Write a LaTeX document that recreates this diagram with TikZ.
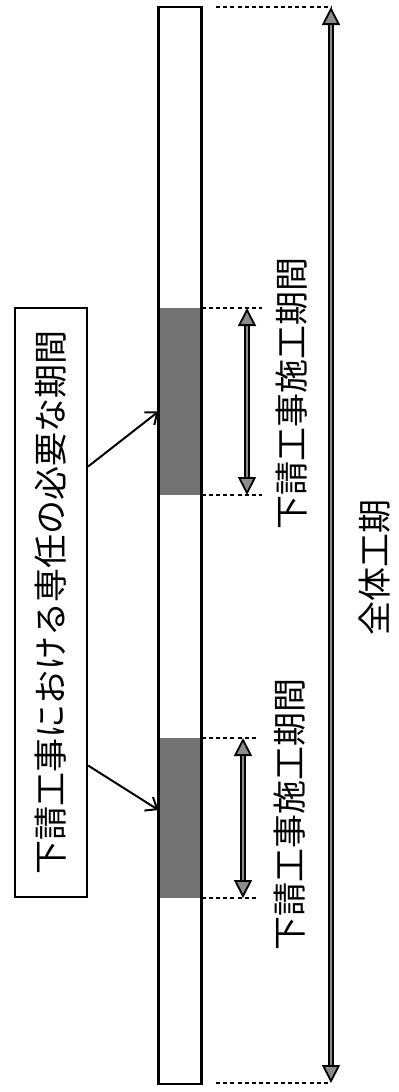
\documentclass[tikz,border=0pt]{standalone}
\usepackage{fontspec}
\setmainfont{Noto Sans CJK JP}
\usetikzlibrary{arrows.meta,calc}

\begin{document}
\begin{tikzpicture}[
  x=0.5pt, y=-0.5pt,
  bar/.style={draw, line width=1.1pt, minimum width=21.5pt, minimum height=538.5pt,
              inner sep=0pt, outer sep=0pt},
  block/.style={fill=black!55, minimum width=21.5pt, inner sep=0pt, outer sep=0pt},
  labelbox/.style={draw, line width=1.1pt, rotate=90, minimum width=294.5pt,
                   minimum height=36pt, inner sep=0pt, font=\fontsize{17pt}{17pt}\selectfont},
  vtext/.style={rotate=90, inner sep=0pt, font=\fontsize{17pt}{17pt}\selectfont},
  guide/.style={line width=0.9pt, dash pattern=on 2pt off 1.6pt},
  span/.style={{Triangle[length=9pt,width=9pt,fill=black!45,line width=0.9pt]}-{Triangle[length=9pt,width=9pt,fill=black!45,line width=0.9pt]},
               line width=0.9pt, double=black!45, double distance=1.2pt},
  pointer/.style={-{Straight Barb[length=5pt,width=8pt]}, line width=1pt}
]
\useasboundingbox (0,0) rectangle (398,1092);

% Sub-contract periods inside the bar
\node[block, minimum height=93.5pt] (blockA) at (180,401.5) {};
\node[block, minimum height=80pt] (blockB) at (180,818) {};

% Whole schedule bar
\node[bar] (bar) at (180,545.5) {};

% Label box
\node[labelbox] (label) at (51,602.5) {下請工事における専任の必要な期間};
\draw[pointer] ($(label.south)+(0,-136)$) -- ($(blockA.west)+(0,10)$);
\draw[pointer] ($(label.south)+(0,163)$) -- ($(blockB.west)+(0,-8)$);

% Guide lines
\draw[guide] (blockA.north east) -- (262,308);
\draw[guide] (blockA.south east) -- (262,495);
\draw[guide] (blockB.north east) -- (258,738);
\draw[guide] (blockB.south east) -- (258,898);
\draw[guide] (216,7) -- (332,7);
\draw[guide] (216,1083) -- (330,1083);

% Spans
\coordinate (a1) at (247,308);
\coordinate (a2) at (247,495);
\coordinate (b1) at (243,738);
\coordinate (b2) at (243,898);
\coordinate (t1) at (331,7);
\coordinate (t2) at (331,1083);
\draw[span] (a1) -- (a2);
\draw[span] (b1) -- (b2);
\draw[span] (t1) -- (t2);

% Span labels
\node[vtext] (spanA) at (292,393) {下請工事施工期間};
\node[vtext] (spanB) at (290,814) {下請工事施工期間};
\node[vtext] (whole) at (375,567) {全体工期};

\end{tikzpicture}
\end{document}
